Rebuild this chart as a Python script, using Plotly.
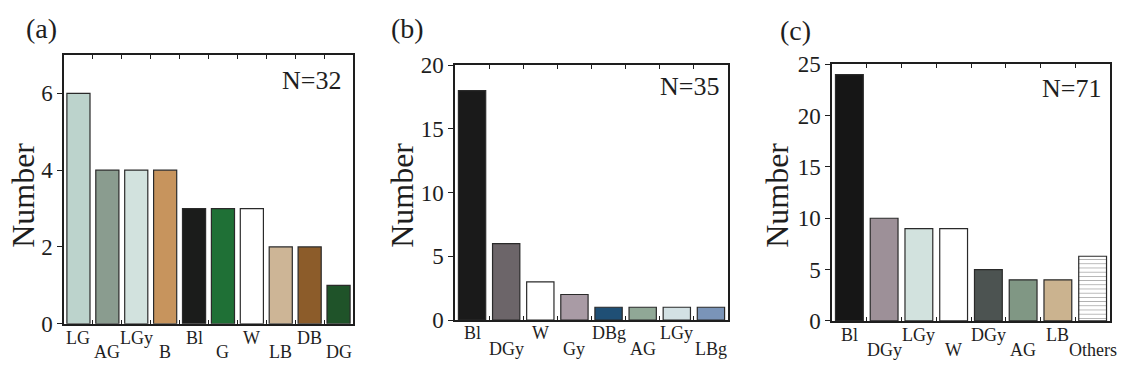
import plotly.graph_objects as go

# ---- data ----
cats_a = ["LG", "AG", "LGy", "B", "Bl", "G", "W", "LB", "DB", "DG"]
vals_a = [6, 4, 4, 4, 3, 3, 3, 2, 2, 1]
cols_a = ["#bcd3cc", "#8a9c8f", "#d2e2de", "#c7945d", "#1b1c1b", "#1f7036",
          "#ffffff", "#cdb596", "#8c5c2a", "#1f5329"]

cats_b = ["Bl", "DGy", "W", "Gy", "DBg", "AG", "LGy", "LBg"]
vals_b = [18, 6, 3, 2, 1, 1, 1, 1]
cols_b = ["#1a1a1a", "#6c6569", "#ffffff", "#a99ba5", "#1f4f75", "#90a896",
          "#d3e1e4", "#7a94b8"]

cats_c = ["Bl", "DGy", "LGy", "W", "DGy", "AG", "LB", "Others"]
vals_c = [24, 10, 9, 9, 5, 4, 4, 6.3]
cols_c = ["#161616", "#9d9098", "#d2e2de", "#ffffff", "#4c5351", "#809784",
          "#cbb38f", "#ffffff"]

n_labels = ["N=32", "N=35", "N=71"]
panel_tags = ["(a)", "(b)", "(c)"]
y_max = [7, 20, 25]
y_major = [[0, 2, 4, 6], [0, 5, 10, 15, 20], [0, 5, 10, 15, 20, 25]]
y_right = [[1, 2, 3, 4, 5, 6], [5, 10, 15], [5, 10, 15, 20]]

# ---- layout geometry (pixels) ----
W, H = 1121, 375
boxes = [(64, 46, 353, 334), (455, 57, 728, 330), (832, 56, 1110, 331)]
row_y = [(349, 364), (344, 361), (346, 362)]
n_pos = [(343, 73), (721, 80), (1103, 82)]
tag_pos = [(41, 18), (407, 18), (795, 20)]
title_x = [23, 402, 777]

SERIF = "Liberation Serif, Times New Roman, serif"
INK = "#1e1e1e"

fig = go.Figure()
layout = dict(
    width=W, height=H, margin=dict(l=0, r=0, t=0, b=0),
    paper_bgcolor="white", plot_bgcolor="white", showlegend=False,
    font=dict(family=SERIF, color=INK), bargap=0.2,
)
annotations = []

panels = [(cats_a, vals_a, cols_a), (cats_b, vals_b, cols_b), (cats_c, vals_c, cols_c)]
for k, (cats, vals, cols) in enumerate(panels):
    x0, y0, x1, y1 = boxes[k]
    xd = [x0 / W, x1 / W]
    yd = [(H - y1) / H, (H - y0) / H]
    xa = "x" if k == 0 else f"x{k + 1}"
    ya = "y" if k == 0 else f"y{k + 1}"
    n = len(cats)
    pos = list(range(n))

    pattern = dict(shape=["-" if c == "Others" else "" for c in cats],
                   fgcolor="#222222", bgcolor="white", size=4.2, solidity=0.18)
    fig.add_trace(go.Bar(
        x=pos, y=vals, xaxis=xa, yaxis=ya, width=0.8,
        marker=dict(color=cols, line=dict(color="#2a2a2a", width=1.2),
                    pattern=pattern),
        hoverinfo="skip",
    ))

    layout["xaxis" if k == 0 else f"xaxis{k + 1}"] = dict(
        domain=xd, anchor=ya, range=[-0.5, n - 0.5],
        tickvals=[i + 0.5 for i in range(n - 1)], ticks="inside", ticklen=4,
        tickwidth=1, tickcolor=INK, showticklabels=False,
        showline=True, linecolor=INK, linewidth=1.5, mirror="ticks",
        showgrid=False, zeroline=False, fixedrange=True,
    )
    layout["yaxis" if k == 0 else f"yaxis{k + 1}"] = dict(
        domain=yd, anchor=xa, range=[0, y_max[k]],
        tickvals=y_major[k], ticks="outside", ticklen=5, tickwidth=1,
        tickcolor=INK, tickfont=dict(size=23, family=SERIF, color=INK),
        showline=True, linecolor=INK, linewidth=1.5, mirror=True,
        showgrid=False, zeroline=False, fixedrange=True,
    )
    # right-hand ticks pointing into the plot
    layout[f"yaxis{k + 4}"] = dict(
        overlaying=ya, side="right", anchor=xa, range=[0, y_max[k]],
        tickvals=y_right[k], ticks="inside", ticklen=5, tickwidth=1,
        tickcolor=INK, showticklabels=False, showline=False,
        showgrid=False, zeroline=False, fixedrange=True,
    )

    # category labels in two staggered rows
    for i, c in enumerate(cats):
        annotations.append(dict(
            x=i, xref=xa, y=(H - row_y[k][i % 2]) / H, yref="paper",
            text=c, showarrow=False, xanchor="center", yanchor="middle",
            font=dict(size=18, family=SERIF, color=INK),
        ))

    annotations.append(dict(
        x=n_pos[k][0] / W, y=(H - n_pos[k][1]) / H, xref="paper", yref="paper",
        text=n_labels[k], showarrow=False, xanchor="right", yanchor="middle",
        font=dict(size=26, family=SERIF, color=INK),
    ))
    annotations.append(dict(
        x=tag_pos[k][0] / W, y=(H - tag_pos[k][1]) / H, xref="paper", yref="paper",
        text=panel_tags[k], showarrow=False, xanchor="center", yanchor="middle",
        font=dict(size=28, family=SERIF, color=INK),
    ))
    annotations.append(dict(
        x=title_x[k] / W, y=(H - 197) / H, xref="paper", yref="paper",
        text="Number", textangle=-90, showarrow=False,
        xanchor="center", yanchor="middle",
        font=dict(size=32, family=SERIF, color=INK),
    ))

layout["annotations"] = annotations
fig.update_layout(**layout)
fig.write_html("out.html")
